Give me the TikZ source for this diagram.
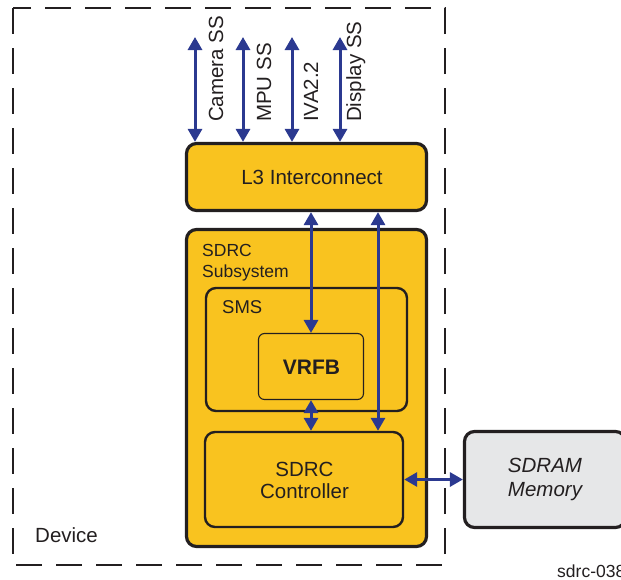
\documentclass[tikz,border=0pt]{standalone}
\usepackage{fontspec}
\setmainfont{Liberation Sans}
\usetikzlibrary{arrows.meta}
\definecolor{tiyellow}{HTML}{F9C31F}
\definecolor{tiblue}{HTML}{2B3990}
\definecolor{tiline}{HTML}{231F20}
\definecolor{tigray}{HTML}{E6E7E8}
\tikzset{
  blk/.style={draw=tiline, fill=tiyellow, rounded corners=10pt, inner sep=0pt},
  thickblk/.style={blk, line width=3.2pt},
  midblk/.style={blk, line width=2.4pt},
  thinblk/.style={blk, line width=1.1pt, rounded corners=6pt},
  tip/.tip={Triangle[width=14pt,length=13pt]},
  biarrow/.style={draw=tiblue, line width=3pt, tip-tip},
  lbl/.style={text=tiline, inner sep=0pt},
  devbox/.style={draw=tiline, line width=1.1pt, dash pattern=on 26pt off 14pt},
}
\begin{document}
\begin{tikzpicture}[x=1pt,y=-1pt]
\useasboundingbox (0,0) rectangle (621,579);
% device boundary
\draw[devbox] (13,8) rectangle (445,565);
\node[lbl, anchor=base west, font=\fontsize{20.5}{24}\selectfont] (dev) at (35,542) {Device};
\node[lbl, anchor=base west, font=\fontsize{17.5}{20}\selectfont] (fig) at (557,577) {sdrc-038};
% blocks
\node[thickblk, minimum width=240pt, minimum height=67pt] (L3) at (306.5,177) {};
\node[lbl, anchor=base, font=\fontsize{20.5}{24}\selectfont] (L3t) at (312,184) {L3 Interconnect};
\node[thickblk, minimum width=240pt, minimum height=317pt] (SUB) at (306.5,388) {};
\node[lbl, anchor=base west, align=left, font=\fontsize{17.5}{21}\selectfont] (SUBt) at (202,277) {SDRC\\Subsystem};
\node[midblk, minimum width=201pt, minimum height=123pt] (SMS) at (306.5,349.5) {};
\node[lbl, anchor=base west, font=\fontsize{18.5}{22}\selectfont] (SMSt) at (222,313) {SMS};
\node[thinblk, minimum width=105pt, minimum height=66pt] (VRFB) at (311,366.5) {};
\node[lbl, anchor=base, font=\fontsize{21}{24}\selectfont\bfseries] (VRFBt) at (311.5,374) {VRFB};
\node[midblk, minimum width=198pt, minimum height=95pt] (CTRL) at (304,479.5) {};
\node[lbl, align=center, font=\fontsize{20.5}{22}\selectfont] (CTRLt) at (304.5,480) {SDRC\\Controller};
\node[thickblk, fill=tigray, minimum width=161pt, minimum height=96pt] (SDRAM) at (545,479.5) {};
\node[lbl, align=center, font=\fontsize{20.5}{24}\selectfont\itshape] (SDRAMt) at (545,479) {SDRAM\\Memory};
% top connectors
\coordinate (a1) at (195,37);
\coordinate (a2) at (243,37);
\coordinate (a3) at (292,37);
\coordinate (a4) at (340,37);
\foreach \c in {a1,a2,a3,a4} \draw[biarrow] (\c) -- (\c |- L3.north);
\node[lbl, rotate=90, anchor=base west, font=\fontsize{20.5}{24}\selectfont] (cam) at (223,122) {Camera SS};
\node[lbl, rotate=90, anchor=base west, font=\fontsize{20.5}{24}\selectfont] (mpu) at (271,122) {MPU SS};
\node[lbl, rotate=90, anchor=base west, font=\fontsize{20.5}{24}\selectfont] (iva) at (318,122) {IVA2.2};
\node[lbl, rotate=90, anchor=base west, font=\fontsize{20.5}{24}\selectfont] (disp) at (361,122) {Display SS};
% internal connectors
\draw[biarrow] (VRFB.north |- L3.south) -- (VRFB.north);
\coordinate (x2) at (378,0);
\draw[biarrow] (x2 |- L3.south) -- (x2 |- CTRL.north);
\draw[biarrow] (VRFB.south) -- (VRFB.south |- CTRL.north);
\draw[biarrow] (CTRL.east) -- (SDRAM.west);
\end{tikzpicture}
\end{document}
